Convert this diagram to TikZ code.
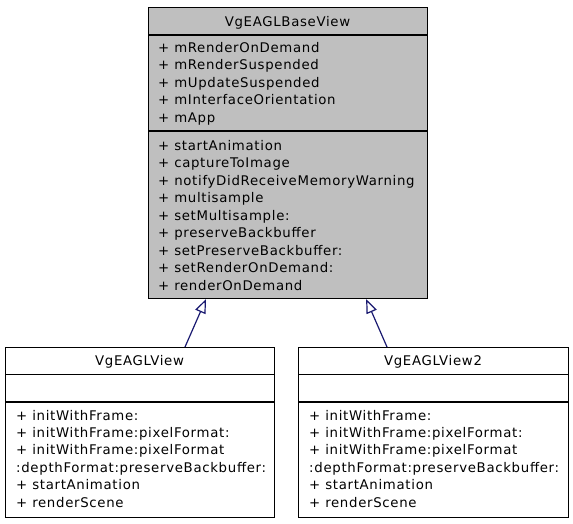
\documentclass[tikz,border=0pt]{standalone}
\usepackage{fontspec}
\setmainfont{DejaVu Sans}[LetterSpace=5.2]
\usetikzlibrary{arrows.meta}
\definecolor{clsgray}{HTML}{BFBFBF}
\definecolor{edgeblue}{HTML}{191970}
\begin{document}
\begin{tikzpicture}[x=1pt,y=-1pt,
  cls/.style={draw=black, line width=1.1pt, inner sep=0pt, anchor=north west},
  member/.style={anchor=base west, inner sep=0pt, font=\fontsize{13.3}{16}\selectfont},
  ttl/.style={anchor=base, inner sep=0pt, font=\fontsize{13.3}{16}\selectfont},
  sep/.style={draw=black, line width=1.1pt},
  inherit/.style={draw=edgeblue, line width=1.2pt, -{Triangle[open, length=14pt, width=11pt, line width=1.2pt]}}]
\useasboundingbox (0,0) rectangle (573,523);

% base class
\node[cls, fill=clsgray, minimum width=279pt, minimum height=291pt] (base) at (148,7) {};
\draw[sep] (148,35) -- (427,35);
\draw[sep] (148,131) -- (427,131);
\node[ttl] (bt) at (287.5,26) {VgEAGLBaseView};
\foreach \t [count=\i from 0] in {mRenderOnDemand, mRenderSuspended, mUpdateSuspended, mInterfaceOrientation, mApp}
  \node[member] (ba\i) at (158,52+17.5*\i) {+ \t};
\foreach \t [count=\i from 0] in {startAnimation, captureToImage, notifyDidReceiveMemoryWarning, multisample, setMultisample:, preserveBackbuffer, setPreserveBackbuffer:, setRenderOnDemand:, renderOnDemand}
  \node[member] (bm\i) at (158,150+17.5*\i) {+ \t};

% left child
\node[cls, fill=white, minimum width=269pt, minimum height=170pt] (lv) at (5,347) {};
\draw[sep] (5,374.5) -- (274,374.5);
\draw[sep] (5,402) -- (274,402);
\node[ttl] (lt) at (139.5,365) {VgEAGLView};
\node[member] (lm0) at (16,420) {+ initWithFrame:};
\node[member] (lm1) at (16,437.4) {+ initWithFrame:pixelFormat:};
\node[member] (lm2) at (16,454.8) {+ initWithFrame:pixelFormat};
\node[member] (lm3) at (16,472.2) {:depthFormat:preserveBackbuffer:};
\node[member] (lm4) at (16,489.6) {+ startAnimation};
\node[member] (lm5) at (16,507) {+ renderScene};

% right child
\node[cls, fill=white, minimum width=270pt, minimum height=170pt] (rv) at (298,347) {};
\draw[sep] (298,374.5) -- (568,374.5);
\draw[sep] (298,402) -- (568,402);
\node[ttl] (rt) at (433,365) {VgEAGLView2};
\node[member] (rm0) at (309,420) {+ initWithFrame:};
\node[member] (rm1) at (309,437.4) {+ initWithFrame:pixelFormat:};
\node[member] (rm2) at (309,454.8) {+ initWithFrame:pixelFormat};
\node[member] (rm3) at (309,472.2) {:depthFormat:preserveBackbuffer:};
\node[member] (rm4) at (309,489.6) {+ startAnimation};
\node[member] (rm5) at (309,507) {+ renderScene};

% inheritance
\draw[inherit] ([xshift=180pt]lv.north west) -- ([xshift=58pt]base.south west);
\draw[inherit] ([xshift=89pt]rv.north west) -- ([xshift=-62pt]base.south east);
\end{tikzpicture}
\end{document}
